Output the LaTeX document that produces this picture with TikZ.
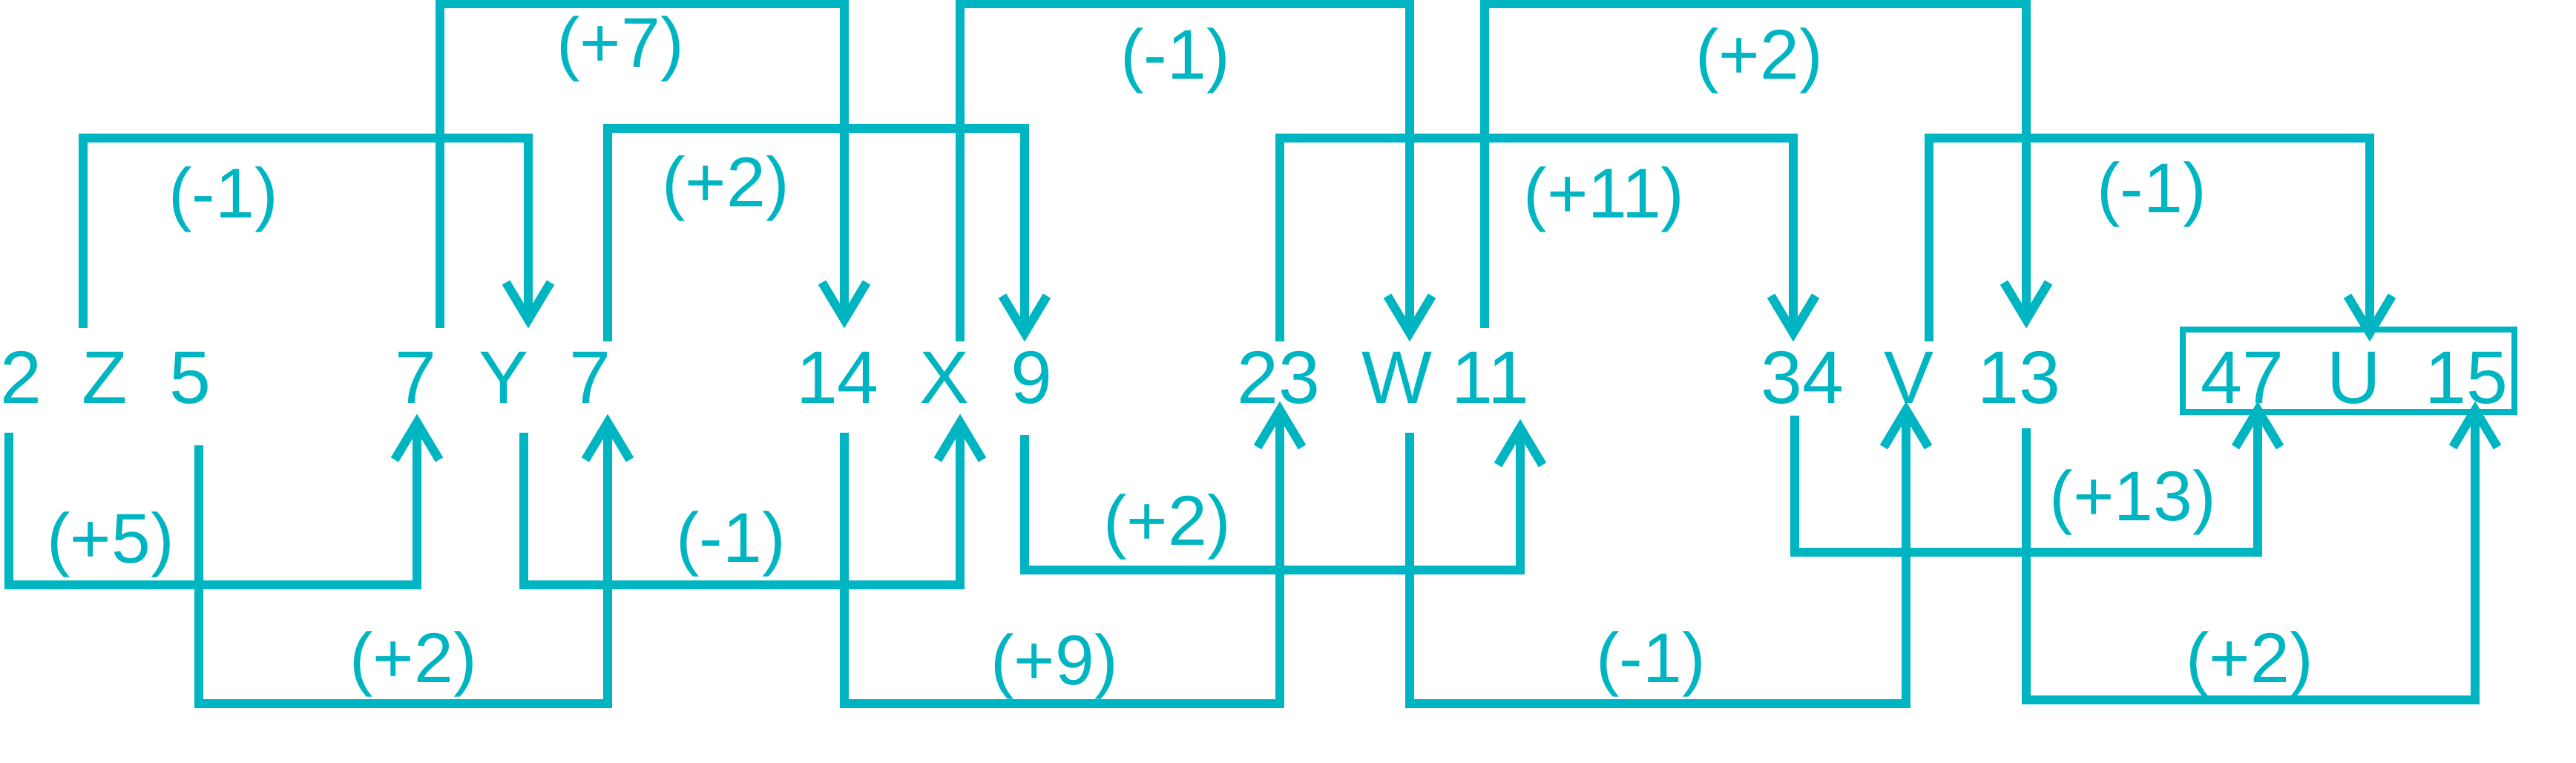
\documentclass[tikz,border=0pt]{standalone}
\usepackage{fontspec}
\setmainfont{Liberation Sans}
\usetikzlibrary{arrows.meta}
\definecolor{tealline}{RGB}{0,181,194}
\tikzset{
  term/.style = {
    font=\fontsize{28.6}{30}\selectfont,
    text=tealline,
    inner sep=0pt,
    text height=0.72cm,
    text depth=0pt,
    anchor=base
  },
  diff/.style = {
    font=\fontsize{27}{29}\selectfont,
    text=tealline,
    inner sep=0pt
  },
  link/.style = {
    draw=tealline,
    line width=0.12cm,
    -{Straight Barb[length=0.5cm,width=0.6cm,line join=miter]}
  },
  frame/.style = {
    draw=tealline,
    line width=0.08cm
  }
}
\begin{document}
\begin{tikzpicture}

\useasboundingbox (0,0) rectangle (34.72,-10.28);

% Reihe der Terme
\node[term] (a_left)  at (0.28,-5.43)  {2};
\node[term] (a_mid)   at (1.41,-5.43)  {Z};
\node[term] (a_right) at (2.56,-5.43)  {5};
\node[term] (b_left)  at (5.60,-5.43)  {7};
\node[term] (b_mid)   at (6.79,-5.43)  {Y};
\node[term] (b_right) at (7.95,-5.43)  {7};
\node[term] (c_left)  at (11.29,-5.43) {14};
\node[term] (c_mid)   at (12.73,-5.43) {X};
\node[term] (c_right) at (13.90,-5.43) {9};
\node[term] (d_left)  at (17.23,-5.43) {23};
\node[term] (d_mid)   at (18.83,-5.43) {W};
\node[term] (d_right) at (20.09,-5.43) {11};
\node[term] (e_left)  at (24.29,-5.43) {34};
\node[term] (e_mid)   at (25.73,-5.43) {V};
\node[term] (e_right) at (27.21,-5.43) {13};
\node[term] (f_left)  at (30.22,-5.43) {47};
\node[term] (f_mid)   at (31.73,-5.43) {U};
\node[term] (f_right) at (33.24,-5.43) {15};

% Antwort-Rahmen
\draw[frame] ([shift={(-0.23,0.26)}]f_left.north west) rectangle ([shift={(0.08,-0.11)}]f_right.south east);

% obere Verbindungen
\draw[link] ([shift={(-0.29,0.28)}]a_mid.north) -- ++(0,2.56) -| ([shift={(0.33,0.28)}]b_mid.north);
\draw[link] ([shift={(0.33,0.28)}]b_left.north) -- ++(0,4.37) -| ([shift={(0.09,0.28)}]c_left.north);
\draw[link] ([shift={(0.24,0.10)}]b_right.north) -- ++(0,2.87) -| ([shift={(-0.09,0.10)}]c_right.north);
\draw[link] ([shift={(0.21,0.10)}]c_mid.north) -- ++(0,4.55) -| ([shift={(0.17,0.10)}]d_mid.north);
\draw[link] ([shift={(0.02,0.10)}]d_left.north) -- ++(0,2.74) -| ([shift={(-0.12,0.10)}]e_left.north);
\draw[link] ([shift={(-0.08,0.28)}]d_right.north) -- ++(0,4.37) -| ([shift={(0.10,0.28)}]e_right.north);
\draw[link] ([shift={(0.27,0.10)}]e_mid.north) -- ++(0,2.74) -| ([shift={(0.21,0.10)}]f_mid.north);

% untere Verbindungen
\draw[link] ([shift={(-0.16,-0.39)}]a_left.south) -- ++(0,-2.05) -| ([shift={(0.02,-0.14)}]b_left.south);
\draw[link] ([shift={(0.12,-0.56)}]a_right.south) -- ++(0,-3.48) -| ([shift={(0.24,-0.14)}]b_right.south);
\draw[link] ([shift={(0.27,-0.39)}]b_mid.south) -- ++(0,-2.05) -| ([shift={(0.21,-0.14)}]c_mid.south);
\draw[link] ([shift={(0.09,-0.39)}]c_left.south) -- ++(0,-3.65) -| ([shift={(0.02,0.03)}]d_left.south);
\draw[link] ([shift={(-0.09,-0.42)}]c_right.south) -- ++(0,-1.82) -| ([shift={(0.40,-0.21)}]d_right.south);
\draw[link] ([shift={(0.17,-0.39)}]d_mid.south) -- ++(0,-3.65) -| ([shift={(-0.04,0.03)}]e_mid.south);
\draw[link] ([shift={(-0.10,-0.16)}]e_left.south) -- ++(0,-1.84) -| ([shift={(0.21,0.03)}]f_left.south);
\draw[link] ([shift={(0.10,-0.33)}]e_right.south) -- ++(0,-3.66) -| ([shift={(0.12,0.03)}]f_right.south);

% Differenzen oben
\node[diff] (op_z_y)   at (3.01,-2.69)  {(-1)};
\node[diff] (op_7_14)  at (8.36,-0.66)  {(+7)};
\node[diff] (op_7_9)   at (9.78,-2.54)  {(+2)};
\node[diff] (op_x_w)   at (15.84,-0.82) {(-1)};
\node[diff] (op_23_34) at (21.62,-2.69) {(+11)};
\node[diff] (op_11_13) at (23.71,-0.82) {(+2)};
\node[diff] (op_v_u)   at (29.00,-2.62) {(-1)};

% Differenzen unten
\node[diff] (op_2_7)   at (1.49,-7.34)  {(+5)};
\node[diff] (op_5_7)   at (5.57,-8.95)  {(+2)};
\node[diff] (op_y_x)   at (9.85,-7.33)  {(-1)};
\node[diff] (op_14_23) at (14.21,-8.98) {(+9)};
\node[diff] (op_9_11)  at (15.73,-7.10) {(+2)};
\node[diff] (op_w_v)   at (22.25,-8.95) {(-1)};
\node[diff] (op_34_47) at (28.75,-6.77) {(+13)};
\node[diff] (op_13_15) at (30.32,-8.95) {(+2)};

\end{tikzpicture}
\end{document}
